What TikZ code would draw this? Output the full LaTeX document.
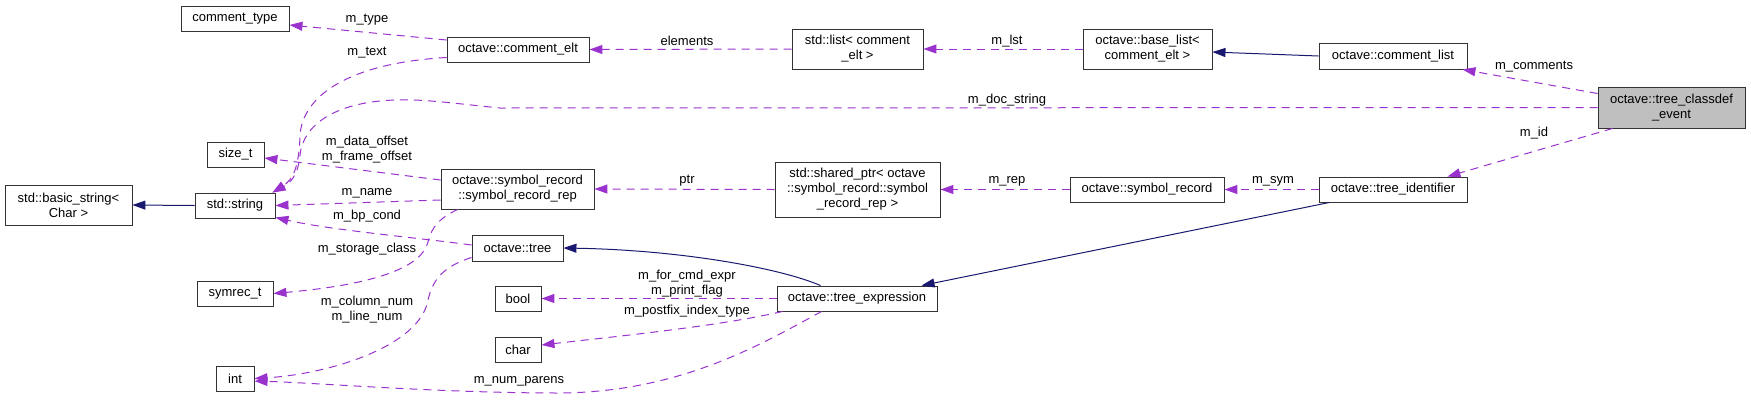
\documentclass[tikz,border=0pt]{standalone}
\usepackage{fontspec}
\setmainfont{Liberation Sans}
\usetikzlibrary{arrows.meta,calc}
\definecolor{edgepurple}{HTML}{9A32CD}
\definecolor{edgenavy}{HTML}{191970}
\definecolor{boxgray}{HTML}{BFBFBF}
\tikzset{
  cls/.style={draw=black!80, line width=0.9pt, fill=white, inner sep=0pt, align=center,
    font=\fontsize{13}{15}\selectfont},
  lbl/.style={inner sep=0pt, align=center, font=\fontsize{13}{15}\selectfont},
  member/.style={draw=edgepurple, line width=1pt, dash pattern=on 8pt off 6pt,
    -{Triangle[length=13pt,width=9pt]}},
  inherit/.style={draw=edgenavy, line width=1pt, -{Triangle[length=13pt,width=9pt]}}
}
\begin{document}
\begin{tikzpicture}[x=1pt,y=-1pt]
\useasboundingbox (0,0) rectangle (1751,400);
% nodes
\node[cls, minimum width=108pt, minimum height=25pt] (ctype) at (235,18.5) {comment\_type};
\node[cls, minimum width=142pt, minimum height=25pt] (celt) at (518,49.5) {octave::comment\_elt};
\node[cls, minimum width=131pt, minimum height=40pt] (slist) at (857.5,49) {std::list\textless{} comment\\\_elt \textgreater{}};
\node[cls, minimum width=129pt, minimum height=40pt] (blist) at (1147.5,49) {octave::base\_list\textless{}\\comment\_elt \textgreater{}};
\node[cls, minimum width=148pt, minimum height=26pt] (clist) at (1393,56) {octave::comment\_list};
\node[cls, fill=boxgray, minimum width=147pt, minimum height=41pt] (event) at (1671.5,107.5) {octave::tree\_classdef\\\_event};
\node[cls, minimum width=57pt, minimum height=25pt] (sizet) at (235.5,154.5) {size\_t};
\node[cls, minimum width=127pt, minimum height=40pt] (bstr) at (68.5,205) {std::basic\_string\textless{}\\Char \textgreater{}};
\node[cls, minimum width=80pt, minimum height=25pt] (str) at (235,205.5) {std::string};
\node[cls, minimum width=153pt, minimum height=40pt] (rep) at (517.5,189) {octave::symbol\_record\\::symbol\_record\_rep};
\node[cls, minimum width=165pt, minimum height=55pt] (sptr) at (857.5,189.5) {std::shared\_ptr\textless{} octave\\::symbol\_record::symbol\\\_record\_rep \textgreater{}};
\node[cls, minimum width=154pt, minimum height=25pt] (srec) at (1147,189.5) {octave::symbol\_record};
\node[cls, minimum width=148pt, minimum height=25pt] (tid) at (1393,189.5) {octave::tree\_identifier};
\node[cls, minimum width=91pt, minimum height=26pt] (tree) at (517.5,248) {octave::tree};
\node[cls, minimum width=76pt, minimum height=25pt] (symrec) at (235,293.5) {symrec\_t};
\node[cls, minimum width=46pt, minimum height=25pt] (bool) at (518,298.5) {bool};
\node[cls, minimum width=160pt, minimum height=25pt] (texpr) at (857,298.5) {octave::tree\_expression};
\node[cls, minimum width=46pt, minimum height=25pt] (char) at (518,349.5) {char};
\node[cls, minimum width=38pt, minimum height=25pt] (int) at (235,378.5) {int};
% inheritance edges
\draw[inherit] (clist.west) -- ([yshift=-3pt]blist.east);
\draw[inherit] ([xshift=11pt]tid.south west) -- ([xshift=145pt]texpr.north west);
\draw[inherit] ([xshift=44pt]texpr.north west) .. controls (780,268) and (680,250) .. (tree.east);
\draw[inherit] (str.west) -- (bstr.east);
% member edges
\draw[member] (blist.west) -- (slist.east);
\draw[member] (slist.west) -- (celt.east);
\draw[member] ([yshift=9.5pt]celt.west) -- ([yshift=-6.5pt]ctype.east);
\draw[member] ([yshift=-8pt]celt.west) .. controls (350,63) and (303,95) .. (300,135)
  .. controls (299,170) and (292,180) .. ([xshift=-3pt]str.north east);
\draw[member] (event.west) -- (500,108) .. controls (450,103) and (425,99) .. (395,100)
  .. controls (335,102) and (303,125) .. (300,155)
  .. controls (298,176) and (290,183) .. ([xshift=-3pt]str.north east);
\draw[member] ([yshift=9pt]rep.west) -- ([yshift=-3.5pt]sizet.east);
\draw[member] ([yshift=-11pt]rep.west) -- (str.east);
\draw[member] ([yshift=3pt]tree.west) .. controls (420,238) and (330,230) .. ([yshift=1pt]str.south east);
\draw[member] ([xshift=17pt]rep.south west) .. controls (440,218) and (432,226) .. (428,242)
  .. controls (422,266) and (380,284) .. (symrec.east);
\draw[member] ([yshift=4pt]tree.south west) .. controls (445,266) and (433,278) .. (428,300)
  .. controls (420,346) and (330,374) .. (int.east);
\draw[member] (texpr.west) -- (bool.east);
\draw[member] ([xshift=6pt]texpr.south west) .. controls (720,326) and (620,336) .. ([yshift=4.5pt]char.east);
\draw[member] ([xshift=45pt]texpr.south west) .. controls (760,345) and (680,392) .. (560,393)
  .. controls (440,393) and (320,383) .. ([yshift=-2.5pt]int.east);
\draw[member] (tid.west) -- (srec.east);
\draw[member] (srec.west) -- (sptr.east);
\draw[member] (sptr.west) -- (rep.east);
\draw[member] ([yshift=14pt]event.west) -- ([xshift=-5pt]clist.south east);
\draw[member] ([xshift=15pt]event.south west) -- ([xshift=-20pt]tid.north east);
% labels
\node[lbl] (l1) at (367,20) {m\_type};
\node[lbl] (l2) at (367,53) {m\_text};
\node[lbl] (l3) at (687,41) {elements};
\node[lbl] (l4) at (1007,41) {m\_lst};
\node[lbl] (l5) at (1534,67) {m\_comments};
\node[lbl] (l6) at (1007,100) {m\_doc\_string};
\node[lbl] (l7) at (1534,133) {m\_id};
\node[lbl] (l8) at (367,150) {m\_data\_offset\\m\_frame\_offset};
\node[lbl] (l9) at (367,193) {m\_name};
\node[lbl] (l10) at (687,181) {ptr};
\node[lbl] (l11) at (1007,181) {m\_rep};
\node[lbl] (l12) at (1273,181) {m\_sym};
\node[lbl] (l13) at (367,216) {m\_bp\_cond};
\node[lbl] (l14) at (367,249) {m\_storage\_class};
\node[lbl] (l15) at (687,283.5) {m\_for\_cmd\_expr\\m\_print\_flag};
\node[lbl] (l16) at (687,311) {m\_postfix\_index\_type};
\node[lbl] (l17) at (367,310) {m\_column\_num\\m\_line\_num};
\node[lbl] (l18) at (519,381) {m\_num\_parens};
\end{tikzpicture}
\end{document}
